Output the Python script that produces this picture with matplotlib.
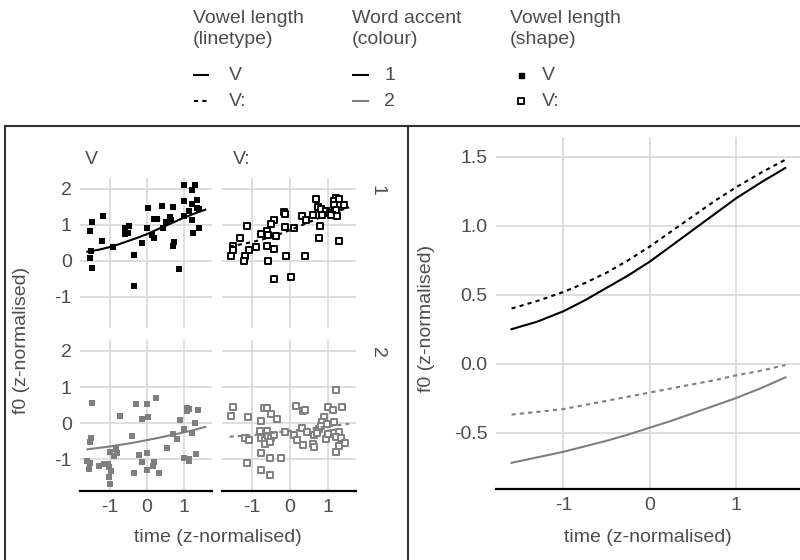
import numpy as np
import matplotlib.pyplot as plt
from matplotlib.lines import Line2D

plt.rcParams['font.family'] = ['Liberation Sans', 'DejaVu Sans']

# points: vowel V / V:, word accent 1 / 2
v_acc1_time = [1.0, 1.30, 1.22, 1.0, 1.35, 1.22, 0.02, 0.41, 0.70, 1.36, 1.40, 1.12, 0.99,
               -1.17, -1.47, -1.54, 0.20, 0.28, 0.50, 0.63, 0.64, 0.44, 1.21, 1.41, 1.24,
               -0.59, -0.48, -0.59, -0.50, 0.01, 0.13, 0.18, -1.2, -0.13, 0.73, 0.70,
               -1.51, -0.91, -0.34, -1.52, -1.49, 0.85, -0.36]
v_acc1_f0 = [2.1, 2.11, 1.96, 1.65, 1.70, 1.57, 1.47, 1.51, 1.49, 1.47, 1.43, 1.38, 1.23,
             1.25, 1.08, 0.84, 1.15, 1.15, 1.08, 1.22, 1.13, 0.91, 1.14, 0.92, 0.77,
             0.90, 0.97, 0.75, 0.78, 0.92, 0.71, 0.64, 0.54, 0.48, 0.53, 0.41,
             0.27, 0.39, 0.15, 0.08, -0.21, -0.24, -0.70]

vv_acc1_time = [1.22, 1.16, 1.29, 0.70, 1.43, 1.18, 0.74, 0.81, 1.23, 0.95, 1.07, 0.85,
                0.62, 1.25, 1.09, -0.16, -0.14, 0.32, 0.43, -0.41, -0.51, -1.15, -0.12,
                0.12, 0.80, -0.60, -0.76, -0.58, -0.36, 0.77, -1.33, -1.51, -1.51, -0.89,
                -1.08, -0.61, -0.41, -1.57, -1.18, -1.22, -0.10, 0.41, -0.58, 1.29,
                -0.41, 0.02]
vv_acc1_f0 = [1.75, 1.65, 1.73, 1.71, 1.56, 1.54, 1.48, 1.43, 1.42, 1.39, 1.34, 1.28,
              1.28, 1.23, 1.28, 1.36, 1.30, 1.23, 1.12, 1.14, 1.02, 0.97, 0.94,
              0.91, 0.97, 0.82, 0.74, 0.71, 0.69, 0.64, 0.62, 0.42, 0.30, 0.39,
              0.29, 0.42, 0.32, 0.13, 0.14, -0.01, 0.12, 0.13, -0.01, 0.54,
              -0.52, -0.46]

v_acc2_time = [-1.48, -0.29, 0.0, 0.24, -0.73, -0.13, 0.04, 1.07, 1.13, 1.09, 1.38, 0.90,
               1.29, 1.00, 0.70, 0.82, 1.22, -1.50, -1.52, -0.41, 0.53, -0.98, -0.82,
               -0.88, -0.81, -0.20, 0.0, -0.13, 0.20, 0.15, 0.0, 0.32, -0.36, 1.00,
               1.14, 1.14, 1.33, -1.60, -1.52, -1.57, -1.28, -1.16, -1.06, -1.02,
               -0.96, -1.03, -0.99]
v_acc2_f0 = [0.57, 0.52, 0.54, 0.71, 0.20, 0.12, 0.17, 0.41, 0.39, 0.33, 0.37, 0.08,
             0.01, -0.17, -0.29, -0.43, -0.27, -0.41, -0.52, -0.34, -0.67, -0.80, -0.71,
             -0.91, -0.83, -0.87, -0.83, -1.08, -1.08, -1.19, -1.29, -1.37, -1.37, -0.96,
             -0.98, -1.03, -0.84, -1.04, -1.10, -1.26, -1.19, -1.12, -1.13, -1.22,
             -1.33, -1.47, -1.68]

vv_acc2_time = [1.23, -1.52, -1.55, -1.12, -0.78, -0.70, -0.60, -0.49, -0.34, 0.15, 0.34,
                0.39, 1.01, 1.15, 1.37, 0.90, 1.17, 0.85, 0.98, 0.76, 0.81, 1.29, 1.14,
                -1.18, -1.09, -0.80, -0.78, -0.67, -0.60, -0.58, -0.49, -0.41, -0.67,
                -0.54, -0.12, 0.12, 0.19, 0.33, 0.44, 0.34, 0.63, 0.72, 0.62, 0.63,
                0.96, 1.00, 1.22, 1.36, 1.47, 1.31, 1.22, -0.78, -0.52, -0.23, -1.13,
                -0.78, -0.52]
vv_acc2_f0 = [0.93, 0.46, 0.20, 0.16, 0.06, 0.43, 0.41, 0.25, 0.11, 0.48, 0.34,
              0.38, 0.44, 0.38, 0.46, 0.17, 0.04, 0.04, -0.01, -0.15, -0.07, -0.24, -0.27,
              -0.41, -0.47, -0.20, -0.41, -0.45, -0.20, -0.35, -0.41, -0.33, -0.56,
              -0.52, -0.24, -0.31, -0.46, -0.13, -0.24, -0.59, -0.31, -0.28, -0.57, -0.66,
              -0.44, -0.30, -0.38, -0.41, -0.54, -0.64, -0.80, -0.82, -0.96, -0.97, -1.09,
              -1.30, -1.42]

# fitted curves
curve_time = [-1.6, -1.3, -1.0, -0.75, -0.5, -0.25, 0.0, 0.25, 0.5, 0.75, 1.0, 1.3, 1.57]
fit_v_acc1 = [0.25, 0.305, 0.38, 0.46, 0.55, 0.64, 0.74, 0.855, 0.97, 1.085, 1.2, 1.32, 1.42]
fit_vv_acc1 = [0.40, 0.455, 0.52, 0.585, 0.66, 0.75, 0.85, 0.96, 1.07, 1.18, 1.28, 1.39, 1.48]
fit_v_acc2 = [-0.72, -0.68, -0.64, -0.60, -0.56, -0.515, -0.465, -0.415, -0.36, -0.305,
              -0.25, -0.175, -0.10]
fit_vv_acc2 = [-0.37, -0.35, -0.33, -0.30, -0.27, -0.24, -0.21, -0.18, -0.15, -0.12,
               -0.085, -0.05, -0.01]

W, H = 800, 560
txt = '#4d4d4d'
grid = '#d4d4d4'
grey = '#7f7f7f'
fs = 14

fig = plt.figure(figsize=(8, 5.6), dpi=100)


def box(x0, y0, x1, y1):
    # pixel coords (top-left origin) to figure rect
    return [x0 / W, (H - y1) / H, (x1 - x0) / W, (y1 - y0) / H]


def style(ax, bottom_axis, show_x, show_y):
    for s in ax.spines.values():
        s.set_visible(False)
    if bottom_axis:
        ax.spines['bottom'].set_visible(True)
        ax.spines['bottom'].set_color('black')
        ax.spines['bottom'].set_linewidth(1.6)
    ax.grid(True, color=grid, lw=1.1)
    ax.set_axisbelow(True)
    ax.tick_params(length=0, labelsize=fs, labelcolor=txt, pad=6)
    if not show_x:
        ax.tick_params(labelbottom=False)
    if not show_y:
        ax.tick_params(labelleft=False)


facets = [
    (box(80, 178, 212, 328), v_acc1_time, v_acc1_f0, fit_v_acc1, 'black', 's', '-', False, True),
    (box(222, 178, 356, 328), vv_acc1_time, vv_acc1_f0, fit_vv_acc1, 'black', 'o', '--', False, False),
    (box(80, 340, 212, 491), v_acc2_time, v_acc2_f0, fit_v_acc2, grey, 's', '-', True, True),
    (box(222, 340, 356, 491), vv_acc2_time, vv_acc2_f0, fit_vv_acc2, grey, 'o', '--', True, False),
]
for rect, xs, ys, fit, col, shp, ls, bot, showy in facets:
    ax = fig.add_axes(rect)
    if shp == 's':
        ax.scatter(xs, ys, marker='s', s=16, color=col, lw=0, zorder=3)
    else:
        ax.scatter(xs, ys, marker='s', s=24, facecolor='white', edgecolor=col,
                   lw=1.4, zorder=3)
    ax.plot(curve_time, fit, color=col, lw=1.5, ls=ls, dashes=(2, 2) if ls == '--' else (None, None),
            zorder=4)
    ax.set_xlim(-1.8, 1.75)
    ax.set_ylim(-1.87, 2.3)
    ax.set_xticks([-1, 0, 1])
    ax.set_yticks([-1, 0, 1, 2])
    style(ax, bot, bot, showy)

# strip labels
fig.text(85 / W, 1 - 159 / H, 'V', fontsize=fs, color=txt, va='center', ha='left')
fig.text(233 / W, 1 - 159 / H, 'V:', fontsize=fs, color=txt, va='center', ha='left')
fig.text(377 / W, 1 - 190 / H, '1', fontsize=fs, color=txt, va='center', ha='center', rotation=-90)
fig.text(377 / W, 1 - 352 / H, '2', fontsize=fs, color=txt, va='center', ha='center', rotation=-90)

fig.text(22 / W, 1 - 340 / H, 'f0 (z-normalised)', fontsize=fs, color=txt,
         rotation=90, va='center', ha='center')
fig.text(218 / W, 1 - 538 / H, 'time (z-normalised)', fontsize=fs, color=txt,
         va='center', ha='center')

# right panel: fitted curves only
ax = fig.add_axes(box(496, 137, 800, 489))
ax.plot(curve_time, fit_v_acc1, color='black', lw=1.5)
ax.plot(curve_time, fit_vv_acc1, color='black', lw=1.5, dashes=(2, 2))
ax.plot(curve_time, fit_v_acc2, color=grey, lw=1.5)
ax.plot(curve_time, fit_vv_acc2, color=grey, lw=1.5, dashes=(2, 2))
ax.set_xlim(-1.78, 1.74)
ax.set_ylim(-0.91, 1.645)
ax.set_xticks([-1, 0, 1])
ax.set_yticks([-0.5, 0.0, 0.5, 1.0, 1.5])
ax.set_yticklabels(['-0.5', '0.0', '0.5', '1.0', '1.5'])
ax.set_xticklabels(['-1', '0', '1'])
style(ax, True, True, True)
fig.text(427 / W, 1 - 318 / H, 'f0 (z-normalised)', fontsize=fs, color=txt,
         rotation=90, va='center', ha='center')
fig.text(648 / W, 1 - 538 / H, 'time (z-normalised)', fontsize=fs, color=txt,
         va='center', ha='center')

# tick labels with plain hyphen
for a in fig.axes:
    a.xaxis.set_major_formatter(plt.FuncFormatter(lambda v, p: f'{v:g}'))
for a in fig.axes[:4]:
    a.yaxis.set_major_formatter(plt.FuncFormatter(lambda v, p: f'{v:g}'))

# panel borders
for (x0, y0, x1, y1) in [(5, 126, 5, 560), (408, 126, 408, 560), (5, 126, 800, 126)]:
    fig.add_artist(Line2D([x0 / W, x1 / W], [1 - y0 / H, 1 - y1 / H], color='#333333',
                          lw=1.5, transform=fig.transFigure))

# legend
groups = [(193, 'Vowel length\n(linetype)'), (352, 'Word accent\n(colour)'),
          (510, 'Vowel length\n(shape)')]
for gx, title in groups:
    fig.text(gx / W, 1 - 10 / H, title, fontsize=fs, color=txt, va='top', ha='left',
             linespacing=1.3)

key_rows = [75, 101]
lt_labels = ['V', 'V:']
for i, y in enumerate(key_rows):
    yy = 1 - y / H
    fig.add_artist(Line2D([194 / W, 208 / W], [yy, yy], color='black', lw=1.5,
                          dashes=(None, None) if i == 0 else (2, 2),
                          transform=fig.transFigure))
    fig.text(229 / W, yy, lt_labels[i], fontsize=fs, color=txt, va='center', ha='left')
    fig.add_artist(Line2D([353 / W, 368 / W], [yy, yy], color=['black', grey][i], lw=1.5,
                          transform=fig.transFigure))
    fig.text(384 / W, yy, ['1', '2'][i], fontsize=fs, color=txt, va='center', ha='left')
    if i == 0:
        fig.add_artist(Line2D([521 / W], [yy], marker='s', ms=3.6, color='black', lw=0,
                              transform=fig.transFigure))
    else:
        fig.add_artist(Line2D([521 / W], [yy], marker='s', ms=4.6, mfc='white', mec='black',
                              mew=1.3, lw=0, transform=fig.transFigure))
    fig.text(542 / W, yy, lt_labels[i], fontsize=fs, color=txt, va='center', ha='left')

fig.savefig('out.png', dpi=100)
